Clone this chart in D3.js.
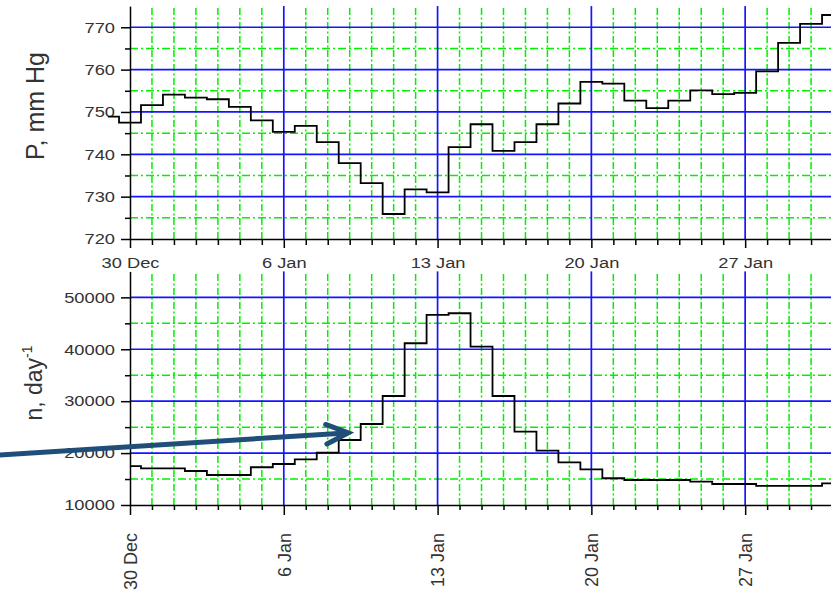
<!DOCTYPE html>
<html>
<head>
<meta charset="utf-8">
<script src="https://cdn.jsdelivr.net/npm/d3@7"></script>
<style>
body { margin: 0; background: #fff; }
svg { display: block; }
text { font-family: "Liberation Sans", Arial, sans-serif; }
</style>
</head>
<body>
<div id="chart"></div>
<script>

// --------------------------------------------------------
// data: daily values, drawn as steps
var pressure_start  = "2012-12-29";
var pressure        = [ 748.9, 747.5, 751.6, 754.1, 753.4, 753.0, 751.2, 748.0, 745.3, 746.7,
                        742.9, 737.9, 733.2, 725.9, 731.7, 731.0, 741.7, 747.1, 740.8, 742.9,
                        747.1, 752.0, 757.1, 756.7, 752.7, 750.9, 752.7, 755.1, 754.2, 754.5,
                        759.6, 766.3, 770.8, 772.9 ];

var counts_start    = "2012-12-30";
var counts          = [ 17500, 17070, 17070, 16550, 15780, 15780, 17270, 17900, 18800, 20080,
                        22520, 25600, 31000, 41160, 46610, 46940, 40500, 31000, 24120, 20460,
                        18230, 16880, 15150, 14820, 14820, 14820, 14490, 14050, 14050, 13700,
                        13700, 13700, 14180 ];

// axis ticks
var x_domain        = [ "2012-12-30", "2013-02-01" ];
var week_ticks      = [ "2012-12-30", "2013-01-06", "2013-01-13", "2013-01-20", "2013-01-27" ];
var p_ticks         = [ 720, 730, 740, 750, 760, 770 ];
var p_minor         = [ 725, 735, 745, 755, 765 ];
var n_ticks         = [ 10000, 20000, 30000, 40000, 50000 ];
var n_minor         = [ 15000, 25000, 35000, 45000 ];

// annotation arrow, in [day offset from 30 Dec, count]
var arrow_from      = [ -6.0, 19620 ];
var arrow_to        = [ 9.93, 23900 ];

// --------------------------------------------------------

var chart_width     = 831;
var chart_height    = 596;
var blue            = "#1414ff";
var green           = "#00f000";
var text_col        = "#333";
var font            = "'Liberation Sans', Arial, sans-serif";
var stretch         = 1.22;     // tick labels in the original look wide

var parse           = d3.utcParse("%Y-%m-%d");
var fmt             = d3.utcFormat("%-d %b");

var svg = d3.select("#chart")
	.append("svg")
	.attr("width", chart_width)
	.attr("height", chart_height);

var x_scale = d3.scaleUtc()
	.domain(x_domain.map(parse))
	.range([130, 130 + 33 * 21.97]);

var weeks   = week_ticks.map(parse);
var days    = d3.utcDay.range(parse(x_domain[0]), parse(x_domain[1]))
	.filter((d) => !weeks.some((w) => +w === +d));

function series(start, values) {
	var t0 = parse(start);
	return values.map((v, i) => [ d3.utcDay.offset(t0, i), v ]);
}

// --------------------------------------------------------
// one panel (grid, axes, step line)
function panel(y_scale, major, minor, data, rotated) {
	var g       = svg.append("g");
	var y0      = y_scale.range()[0];
	var y1      = y_scale.range()[1];
	var xr      = x_scale.range();

	// green minor grid
	g.selectAll(".vg").data(days).enter().append("line")
		.attr("x1", (d) => x_scale(d)).attr("x2", (d) => x_scale(d))
		.attr("y1", y0).attr("y2", y1)
		.attr("stroke", green).attr("stroke-width", 1.5)
		.attr("stroke-dasharray", "7,2.5,2,2.5");
	g.selectAll(".hg").data(minor).enter().append("line")
		.attr("x1", xr[0]).attr("x2", xr[1])
		.attr("y1", (d) => y_scale(d)).attr("y2", (d) => y_scale(d))
		.attr("stroke", green).attr("stroke-width", 1.5)
		.attr("stroke-dasharray", "8,3,2,3");

	// blue major grid
	g.selectAll(".vb").data(weeks.slice(1)).enter().append("line")
		.attr("x1", (d) => x_scale(d)).attr("x2", (d) => x_scale(d))
		.attr("y1", y0).attr("y2", y1)
		.attr("stroke", blue).attr("stroke-width", 1.7);
	g.selectAll(".hb").data(major.slice(1)).enter().append("line")
		.attr("x1", xr[0]).attr("x2", xr[1])
		.attr("y1", (d) => y_scale(d)).attr("y2", (d) => y_scale(d))
		.attr("stroke", blue).attr("stroke-width", 1.7);

	// y axis
	var ya = g.append("g")
		.attr("transform", "translate(" + xr[0] + ",0)")
		.call(d3.axisLeft(y_scale).tickValues(major).tickFormat(d3.format("d"))
			.tickSize(9).tickSizeOuter(0).tickPadding(6));
	ya.append("g").call(d3.axisLeft(y_scale).tickValues(minor).tickSize(5).tickFormat(""))
		.select(".domain").remove();
	ya.selectAll("text")
		.attr("x", -15 / stretch)
		.attr("transform", "scale(" + stretch + ",1)")
		.style("font-size", "15px").style("font-family", font).attr("fill", text_col);

	// x axis
	var xa = g.append("g")
		.attr("transform", "translate(0," + y0 + ")")
		.call(d3.axisBottom(x_scale).tickValues(weeks).tickFormat(fmt)
			.tickSize(rotated ? 10 : 9).tickSizeOuter(0).tickPadding(9));
	xa.append("g").call(d3.axisBottom(x_scale).tickValues(days).tickSize(rotated ? 5 : 6).tickFormat(""))
		.select(".domain").remove();
	if (rotated) {
		xa.selectAll(".tick text")
			.attr("transform", "rotate(-90)")
			.attr("x", -28).attr("y", 0).attr("dy", "0.35em")
			.attr("text-anchor", "end")
			.style("font-size", "18px").style("font-family", font).attr("fill", text_col);
	} else {
		xa.selectAll(".tick text")
			.attr("transform", "scale(" + stretch + ",1)")
			.style("font-size", "15px").style("font-family", font).attr("fill", text_col);
	}
	g.selectAll(".domain, .tick line").attr("stroke", "#000").attr("stroke-width", 1.5);

	// step line
	g.append("path")
		.datum(data)
		.attr("fill", "none")
		.attr("stroke", "#000")
		.attr("stroke-width", 1.8)
		.attr("d", d3.line()
			.curve(d3.curveStep)
			.x((d) => x_scale(d[0]))
			.y((d) => y_scale(d[1])));
	return g;
}

// --------------------------------------------------------

var p_scale = d3.scaleLinear().domain([720, 775]).range([239, 6.1]);
var n_scale = d3.scaleLinear().domain([10000, 55000]).range([505, 271.4]);

panel(p_scale, p_ticks, p_minor, series(pressure_start, pressure), false);
panel(n_scale, n_ticks, n_minor, series(counts_start, counts), true);

// axis titles
svg.append("text")
	.attr("transform", "translate(44,106) rotate(-90)")
	.attr("text-anchor", "middle")
	.style("font-size", "25px").attr("fill", text_col)
	.text("P, mm Hg");

var nt = svg.append("text")
	.attr("transform", "translate(42,383) rotate(-90)")
	.attr("text-anchor", "middle")
	.style("font-size", "23px").attr("fill", text_col);
nt.append("tspan").text("n, day");
nt.append("tspan").attr("dy", "-0.7em").style("font-size", "14px").text("-1");

// --------------------------------------------------------
// arrow
var t0 = parse("2012-12-30");
function ax(p) { return x_scale(new Date(+t0 + p[0] * 864e5)); }
var tail = [ ax(arrow_from), n_scale(arrow_from[1]) ];
var tip  = [ ax(arrow_to), n_scale(arrow_to[1]) ];
var ang  = Math.atan2(tip[1] - tail[1], tip[0] - tail[0]);
var barb = 24, spread = 0.42;
var arrow_col = "#1f4e79";

svg.append("line")
	.attr("x1", tail[0]).attr("y1", tail[1])
	.attr("x2", tip[0] - 2 * Math.cos(ang)).attr("y2", tip[1] - 2 * Math.sin(ang))
	.attr("stroke", arrow_col).attr("stroke-width", 5);
svg.append("path")
	.attr("d", "M" + (tip[0] - barb * Math.cos(ang - spread)) + "," + (tip[1] - barb * Math.sin(ang - spread)) +
		"L" + tip[0] + "," + tip[1] +
		"L" + (tip[0] - barb * Math.cos(ang + spread)) + "," + (tip[1] - barb * Math.sin(ang + spread)))
	.attr("fill", "none")
	.attr("stroke", arrow_col).attr("stroke-width", 5)
	.attr("stroke-linejoin", "miter").attr("stroke-linecap", "round");

</script>
</body>
</html>
